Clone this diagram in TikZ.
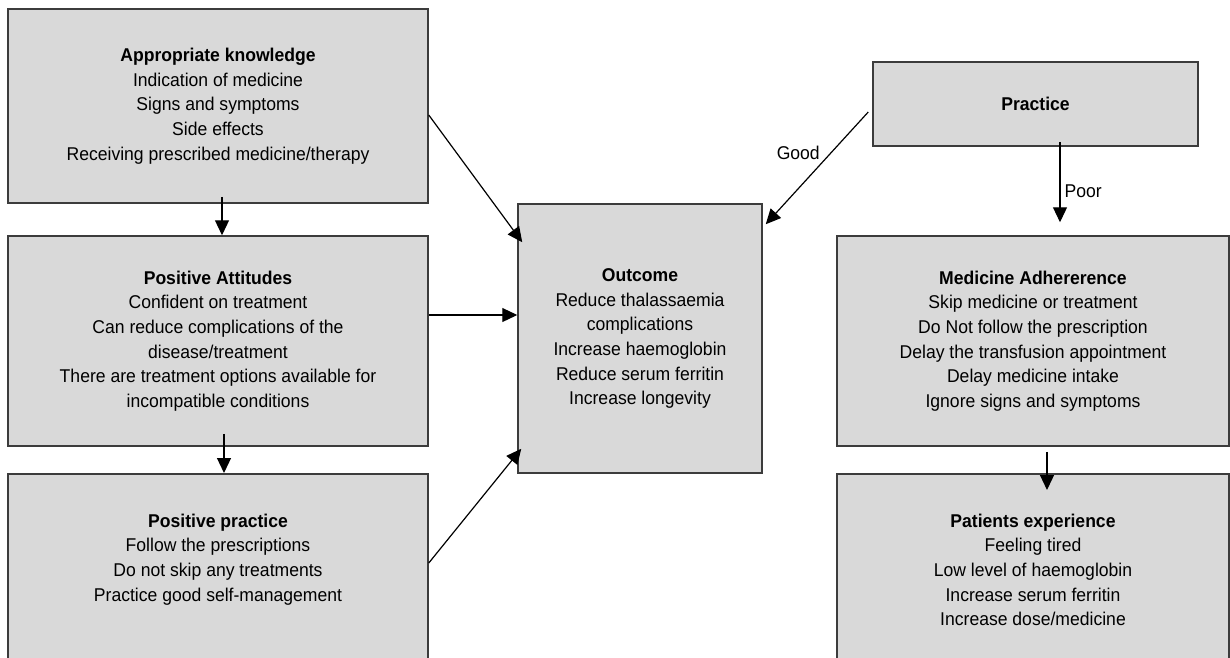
\documentclass[tikz,border=0pt]{standalone}
\usepackage{fontspec}
\setmainfont{Liberation Sans}[FakeStretch=0.95]
\usepackage{tikz}
\usetikzlibrary{positioning,calc,arrows.meta}

\begin{document}
\begin{tikzpicture}[x=1pt,y=-1pt]
\definecolor{kapgray}{RGB}{217,217,217}
\definecolor{kapedge}{RGB}{60,60,60}
\tikzset{
	kapnode/.style={
		shape=rectangle,
		draw=kapedge,
		line width=1.5pt,
		fill=kapgray,
		align=center,
		inner sep=0pt,
		font=\fontsize{18.5}{24.7}\selectfont,
		text=black
	},
	openbox/.style={kapnode, anchor=north, inner xsep=0pt, inner ysep=40pt, text depth=260pt},
	kaplabel/.style={inner sep=1pt, font=\fontsize{18.5}{24.7}\selectfont},
	kaparrow/.style={draw=black, line width=1.2pt, -{Triangle[length=15pt,width=14pt]}}
}
\useasboundingbox (0,0) rectangle (1230,657);
\clip (0,0) rectangle (1230,657);

% left column: knowledge -> attitudes -> practice
\node[kapnode, minimum width=420, minimum height=194] (knowledge) at (218,106)
	{\textbf{Appropriate knowledge}\\Indication of medicine\\Signs and symptoms\\Side effects\\Receiving prescribed medicine/therapy};
\node[kapnode, minimum width=420, minimum height=210] (attitude) at (218,341)
	{\textbf{Positive Attitudes}\\Confident on treatment\\Can reduce complications of the\\disease/treatment\\There are treatment options available for\\incompatible conditions};
\node[openbox, minimum width=420] (pospractice) at (218,473)
	{\textbf{Positive practice}\\Follow the prescriptions\\Do not skip any treatments\\Practice good self-management};

\node[kapnode, minimum width=244, minimum height=269] (outcome) at (640,338.5)
	{\textbf{Outcome}\\Reduce thalassaemia\\complications\\Increase haemoglobin\\Reduce serum ferritin\\Increase longevity};

% right column
\node[kapnode, minimum width=325, minimum height=84] (practice) at (1035.5,104) {\textbf{Practice}};
\node[kapnode, minimum width=392, minimum height=210] (adherence) at (1033,341)
	{\textbf{Medicine Adhererence}\\Skip medicine or treatment\\Do Not follow the prescription\\Delay the transfusion appointment\\Delay medicine intake\\Ignore signs and symptoms};
\node[openbox, minimum width=392] (experience) at (1033,473)
	{\textbf{Patients experience}\\Feeling tired\\Low level of haemoglobin\\Increase serum ferritin\\Increase dose/medicine};

\draw[kaparrow] ([xshift=4pt,yshift=7pt]knowledge.south) -- ([xshift=4pt]attitude.north);
\draw[kaparrow] ([xshift=6pt,yshift=13pt]attitude.south) -- ([xshift=6pt]pospractice.north);
\draw[kaparrow] ([yshift=-9pt]knowledge.east) -- ([xshift=5pt,yshift=-39pt]outcome.north west);
\draw[kaparrow] ([yshift=26pt]attitude.east) coordinate (att1) -- (att1 -| outcome.west);
\draw[kaparrow] ([yshift=-90pt]pospractice.north east) -- ([xshift=4pt,yshift=25pt]outcome.south west);

\draw[kaparrow] ([xshift=-4pt,yshift=-8pt]practice.west) -- ([xshift=3pt,yshift=-21pt]outcome.north east)
	node[kaplabel, pos=0.36, left=10pt] {Good};
\draw[kaparrow] ([xshift=24.5pt,yshift=5pt]practice.south) coordinate (prc1) -- ($(prc1 |- adherence.north)+(0,-13)$)
	node[kaplabel, pos=0.62, right=3pt] {Poor};
\draw[kaparrow] ([xshift=14pt,yshift=-5pt]adherence.south) -- ([xshift=14pt,yshift=-17pt]experience.north);
\end{tikzpicture}
\end{document}
